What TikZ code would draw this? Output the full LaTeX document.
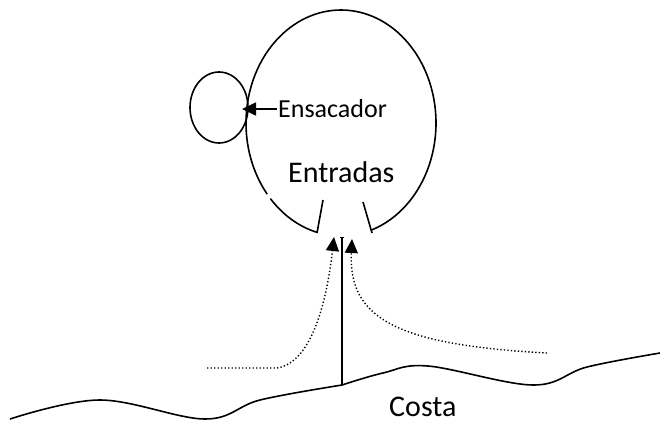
\documentclass[tikz,border=0pt]{standalone}
\usepackage{fontspec}
\setmainfont{Carlito}
\usetikzlibrary{arrows.meta}

\tikzset{
  line/.style={line width=1.6pt, line join=round},
  flow/.style={line width=1.4pt, dash pattern=on 1.3pt off 2.2pt},
  tip/.style={-{Triangle[length=14pt, width=13pt]}},
  lbl/.style={inner sep=0pt, anchor=base west},
}

\begin{document}
\begin{tikzpicture}[x=1pt, y=-1pt]
\useasboundingbox (0,0) rectangle (660,421);

% coordinates
\coordinate (bag) at (341,123);
\coordinate (small) at (219,107.5);
\coordinate (in-l-top) at (323,200);
\coordinate (in-l-bot) at (317,233);
\coordinate (in-r-top) at (363,202);
\coordinate (in-r-bot) at (372,233);
\coordinate (pole-top) at (342,237);
\coordinate (pole-bot) at (342,385);
\coordinate (ens-tip) at (242,109);
\coordinate (ens-tail) at (277,109);

% bag with opening at the bottom
\draw[line] (bag) ++(104.6:95 and 113) arc[start angle=104.6, end angle=138, x radius=95, y radius=113];
\draw[line] (bag) ++(141:95 and 113) arc[start angle=141, end angle=431, x radius=95, y radius=113];
\draw[line] (small) ellipse[x radius=29, y radius=35.5];

% entrances
\draw[line] (in-l-top) -- (in-l-bot);
\draw[line] (in-r-top) -- (in-r-bot);

% coast
\draw[line] plot[smooth, tension=0.6] coordinates {(10,419) (100,400) (205,419) (260,400) (342,385)};
\draw[line] plot[smooth, tension=0.6] coordinates {(342,385) (383,373) (428,366) (533,385) (587,367) (660,353)};
\draw[line, -{Bar[width=4pt, line width=1pt]}] (pole-bot) -- (pole-top);

% currents
\draw[flow, tip] (207,368) -- (277,368) .. controls (315,362) and (328,290) .. (334,237);
\draw[flow, tip] (547,353) .. controls (400,345) and (348,320) .. (352,239);

% labels
\draw[line, tip] (ens-tail) -- (ens-tip);
\node[lbl, font=\fontsize{26}{30}\selectfont] (ens) at (278,117) {Ensacador};
\node[lbl, font=\fontsize{30}{34}\selectfont] (ent) at (288,182) {Entradas};
\node[lbl, font=\fontsize{30}{34}\selectfont] (costa) at (389,416) {Costa};
\end{tikzpicture}
\end{document}
